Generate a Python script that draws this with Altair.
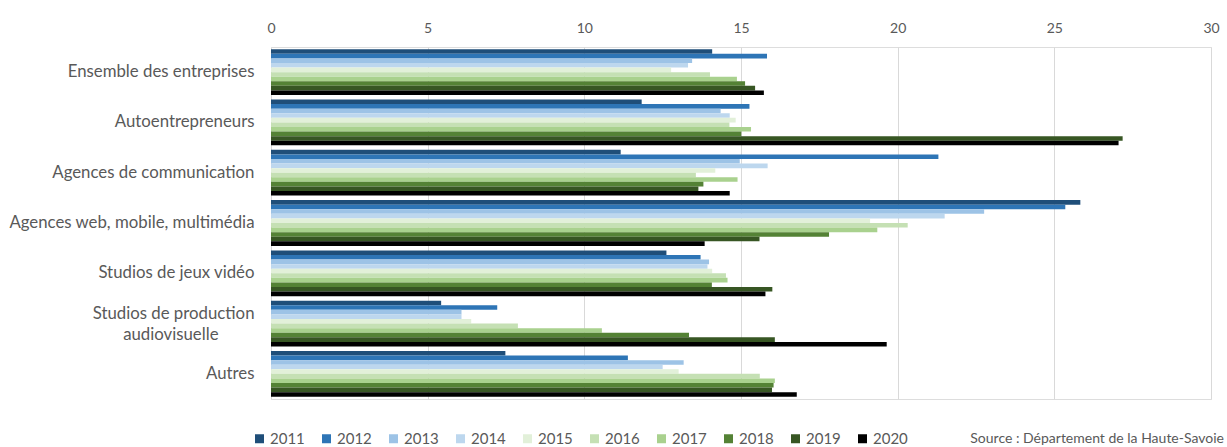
import altair as alt
import pandas as pd

categories = [
    "Ensemble des entreprises",
    "Autoentrepreneurs",
    "Agences de communication",
    "Agences web, mobile, multimédia",
    "Studios de jeux vidéo",
    "Studios de production audiovisuelle",
    "Autres",
]
years = ["2011", "2012", "2013", "2014", "2015", "2016", "2017", "2018", "2019", "2020"]

ensemble = [14.08, 15.83, 13.44, 13.31, 12.77, 14.01, 14.87, 15.13, 15.45, 15.73]
autoentrepreneurs = [11.83, 15.27, 14.35, 14.64, 14.83, 14.63, 15.32, 15.01, 27.18, 27.05]
communication = [11.16, 21.3, 14.96, 15.85, 14.18, 13.56, 14.89, 13.80, 13.64, 14.64]
web = [25.83, 25.35, 22.76, 21.5, 19.12, 20.32, 19.35, 17.81, 15.59, 13.84]
jeux = [12.62, 13.71, 13.98, 13.93, 14.08, 14.52, 14.57, 14.07, 16.0, 15.78]
audiovisuel = [5.43, 7.22, 6.08, 6.08, 6.39, 7.88, 10.56, 13.34, 16.08, 19.65]
autres = [7.48, 11.39, 13.17, 12.5, 13.01, 15.6, 16.08, 16.04, 15.99, 16.78]

series = [ensemble, autoentrepreneurs, communication, web, jeux, audiovisuel, autres]

colors = ["#1f4e79", "#2e75b6", "#9dc3e6", "#bdd7ee", "#e2f0d9",
          "#c5e0b4", "#a9d18e", "#548235", "#375623", "#000000"]

x_ticks = [0, 5, 10, 15, 20, 25, 30]
source = "Source : Département de la Haute-Savoie"

rows = []
for cat, vals in zip(categories, series):
    for yr, v in zip(years, vals):
        rows.append({"categorie": cat, "annee": yr, "valeur": v})
df = pd.DataFrame(rows)

FONT = "Lato"
GREY = "#595959"
LONG = "Studios de production audiovisuelle"

# the long category is split on two lines; blank braille cells pad the second
# line so that it sits centred under the first one
label_expr = (
    f"datum.value == '{LONG}' ? "
    "['Studios de production', 'audiovisuelle\u2800\u2800\u2800'] : datum.value"
)

bars = alt.Chart(df).mark_bar().encode(
    x=alt.X(
        "valeur:Q",
        scale=alt.Scale(domain=[0, 30], nice=False),
        axis=alt.Axis(
            orient="top", values=x_ticks, title=None, domain=False, ticks=False,
            labelPadding=12, labelColor=GREY, labelFont=FONT, labelFontSize=14,
            labelFlush=False, gridColor="#d9d9d9", gridWidth=1,
        ),
    ),
    y=alt.Y(
        "categorie:N", sort=categories,
        scale=alt.Scale(paddingInner=0.09, paddingOuter=0.045),
        axis=alt.Axis(
            title=None, domain=False, ticks=False, grid=False,
            labelPadding=17, labelColor=GREY, labelFont=FONT, labelFontSize=16.8,
            labelLimit=400, labelExpr=label_expr, labelLineHeight=21,
            labelOffset={"condition": {"test": f"datum.value == '{LONG}'", "value": -10}, "value": 0},
        ),
    ),
    yOffset=alt.YOffset("annee:N", sort=years, scale=alt.Scale(paddingInner=0, paddingOuter=0)),
    color=alt.Color(
        "annee:N",
        scale=alt.Scale(domain=years, range=colors),
        legend=alt.Legend(
            title=None, orient="none", legendX=-19, legendY=384,
            direction="horizontal", columns=10, symbolType="square",
            symbolSize=81, symbolStrokeWidth=0, labelFont=FONT, labelFontSize=15,
            labelColor=GREY, labelOffset=3, columnPadding=14,
        ),
    ),
)

source_text = alt.Chart(pd.DataFrame({"t": [source]})).mark_text(
    align="right", baseline="middle", font=FONT, fontSize=14, color=GREY
).encode(x=alt.value(953), y=alt.value(392), text="t:N")

chart = alt.layer(bars, source_text).properties(
    width=940,
    height=352,
    autosize=alt.AutoSizeParams(type="none"),
    padding={"left": 271, "top": 47, "right": 16, "bottom": 48},
).configure_view(stroke=None).configure(background="white")

chart.save("out.html", embed_options={"renderer": "svg", "actions": False})
